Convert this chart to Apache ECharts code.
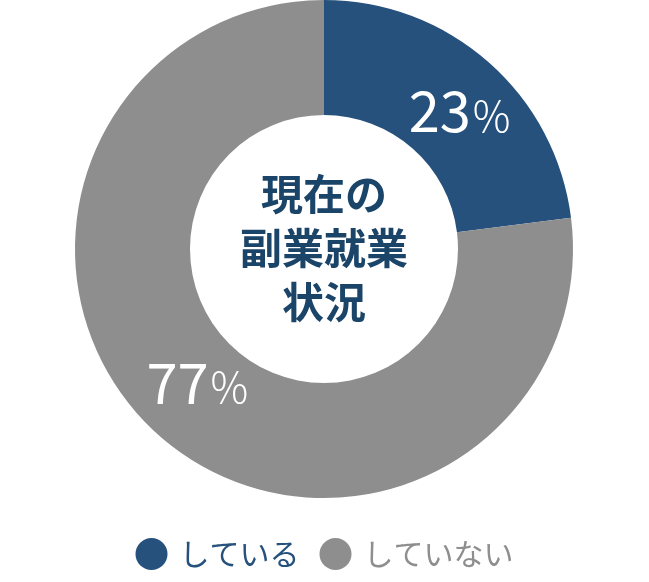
<!DOCTYPE html>
<html>
<head>
<meta charset="utf-8">
<script src="https://cdn.jsdelivr.net/npm/echarts@6/dist/echarts.min.js"></script>
<style>
  html, body { margin: 0; padding: 0; background: #fff; }
  #main { width: 649px; height: 582px; }
</style>
</head>
<body>
<div id="main"></div>
<script>
// データ
var categories = ['している', 'していない'];
var values = [23, 77];
var colors = ['#26517c', '#8e8e8e'];
var centerTitle = '現在の\n副業就業\n状況';
// ラベル位置の微調整（padding）
var labelPads = [[16, 0, 0, 14], [0, 0, 24, 4]];

(function(){
    var myChart = echarts.init(document.getElementById('main'));

    var pieData = categories.map(function (name, i) {
        return {
            name: name,
            value: values[i],
            itemStyle: { color: colors[i] },
            label: { padding: labelPads[i] }
        };
    });
    var legendData = categories.map(function (name, i) {
        return { name: name, textStyle: { color: colors[i] } };
    });

    myChart.setOption({
        animation: false,
        // 中央のテキスト
        graphic: [{
            type: 'text',
            x: 324,
            y: 248,
            style: {
                text: centerTitle,
                align: 'center',
                verticalAlign: 'middle',
                fontFamily: 'Noto Sans CJK JP',
                fontSize: 42,
                fontWeight: 'bold',
                lineHeight: 54,
                fill: '#1b4469'
            }
        }],
        legend: {
            data: legendData,
            left: 'center',
            top: 533,
            icon: 'circle',
            itemWidth: 32,
            itemHeight: 32,
            itemGap: 20,
            textStyle: {
                fontFamily: 'Noto Sans CJK JP',
                fontSize: 30,
                padding: [0, 0, 0, 7]
            }
        },
        series: [{
            type: 'pie',
            center: [324, 249],
            radius: [134, 249],
            startAngle: 90,
            clockwise: true,
            silent: true,
            label: {
                show: true,
                position: 'inside',
                formatter: function (p) { return '{n|' + p.value + '}{p|%}'; },
                rich: {
                    n: { fontFamily: 'Noto Sans CJK JP', fontWeight: 'normal', fontSize: 56, color: '#fff' },
                    p: { fontFamily: 'Noto Sans CJK JP', fontWeight: 300, fontSize: 42, color: '#fff', padding: [9, 0, 0, 2] }
                }
            },
            labelLine: { show: false },
            data: pieData
        }]
    });
})();
</script>
</body>
</html>
